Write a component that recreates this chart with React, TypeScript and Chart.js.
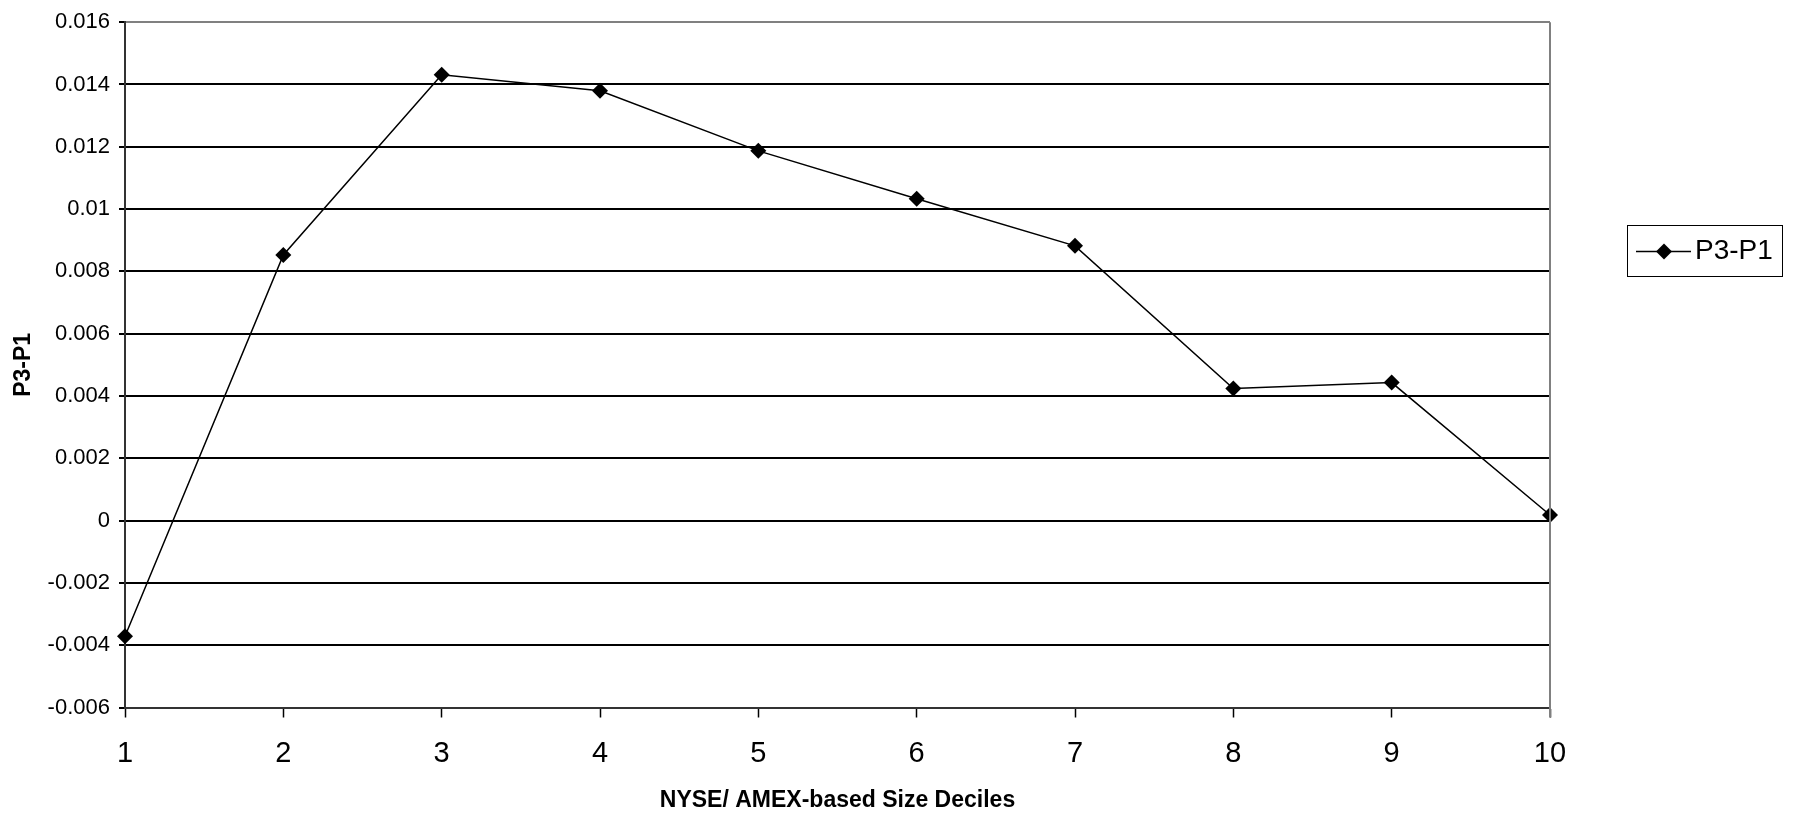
import React, { useEffect, useRef } from "react";
import { Chart, registerables } from "chart.js";

Chart.register(...registerables);

const categories = ["1", "2", "3", "4", "5", "6", "7", "8", "9", "10"];
const seriesName = "P3-P1";
const seriesValues = [-0.00371, 0.00853, 0.01431, 0.0138, 0.01187, 0.01033, 0.00882, 0.00424, 0.00443, 0.00018];
const yMin = -0.006;
const yMax = 0.016;
const yStep = 0.002;
const xTitle = "NYSE/ AMEX-based Size Deciles";
const yTitle = "P3-P1";

const FONT = "Arial, 'Liberation Sans', sans-serif";

const framePlugin = {
  id: "frame",
  afterDraw(chart: any) {
    const { ctx, chartArea } = chart;
    ctx.save();
    // right border
    ctx.strokeStyle = "#808080";
    ctx.lineWidth = 2;
    ctx.beginPath();
    ctx.moveTo(chartArea.right, chartArea.top);
    ctx.lineTo(chartArea.right, chartArea.bottom + 10);
    ctx.stroke();
    // legend
    const bx = 1627, by = 225, bw = 155, bh = 51;
    ctx.fillStyle = "#fff";
    ctx.fillRect(bx, by, bw, bh);
    ctx.strokeStyle = "#000";
    ctx.lineWidth = 1;
    ctx.strokeRect(bx + 0.5, by + 0.5, bw, bh);
    const ly = by + bh / 2 + 1;
    ctx.lineWidth = 1.5;
    ctx.beginPath();
    ctx.moveTo(bx + 9, ly);
    ctx.lineTo(bx + 64, ly);
    ctx.stroke();
    ctx.fillStyle = "#000";
    const cx = bx + 37, r = 8;
    ctx.beginPath();
    ctx.moveTo(cx, ly - r);
    ctx.lineTo(cx + r, ly);
    ctx.lineTo(cx, ly + r);
    ctx.lineTo(cx - r, ly);
    ctx.closePath();
    ctx.fill();
    ctx.font = `28px ${FONT}`;
    ctx.textBaseline = "middle";
    ctx.textAlign = "left";
    ctx.fillText(seriesName, bx + 68, ly);
    ctx.restore();
  },
};

export default function App() {
  const ref = useRef<HTMLCanvasElement | null>(null);
  useEffect(() => {
    if (!ref.current) return;
    const chart = new Chart(ref.current, {
      type: "line",
      data: {
        labels: categories,
        datasets: [
          {
            label: seriesName,
            data: seriesValues,
            borderColor: "#000",
            backgroundColor: "#000",
            borderWidth: 1.5,
            pointStyle: "rectRot",
            pointRadius: 8,
            pointBorderWidth: 0,
            pointBackgroundColor: "#000",
            tension: 0,
          },
        ],
      },
      plugins: [framePlugin],
      options: {
        animation: false,
        responsive: true,
        maintainAspectRatio: false,
        devicePixelRatio: 1,
        layout: { padding: { left: 0, right: 244, top: 20, bottom: 0 } },
        plugins: {
          legend: { display: false },
          tooltip: { enabled: false },
        },
        scales: {
          x: {
            type: "category",
            offset: false,
            afterFit(scale: any) {
              scale.height = 107.5;
            },
            grid: {
              display: true,
              drawOnChartArea: false,
              drawTicks: true,
              tickLength: 10,
              tickColor: "#000",
              tickWidth: 1.5,
            },
            border: { display: true, color: "#333", width: 2 },
            ticks: {
              color: "#000",
              font: { family: FONT, size: 29 },
              padding: 19,
              maxRotation: 0,
              autoSkip: false,
            },
            title: {
              display: true,
              text: xTitle,
              color: "#000",
              font: { family: FONT, size: 23, weight: "bold" },
              padding: { top: 0, bottom: 1 },
            },
          },
          y: {
            min: yMin,
            max: yMax,
            afterFit(scale: any) {
              scale.width = 125;
            },
            ticks: {
              stepSize: yStep,
              color: "#000",
              font: { family: FONT, size: 22 },
              padding: 9,
              callback: (v: any) => {
                const n = Math.round(Number(v) * 1000) / 1000;
                return String(n);
              },
            },
            grid: {
              color: (c: any) => (c.tick && Math.abs(c.tick.value - yMax) < 1e-9 ? "#808080" : "#000"),
              lineWidth: 2,
              drawTicks: true,
              tickLength: 6,
              tickColor: "#000",
            },
            border: { display: true, color: "#333", width: 2 },
            title: {
              display: true,
              text: yTitle,
              color: "#000",
              font: { family: FONT, size: 23, weight: "bold" },
              padding: { top: 10, bottom: 0 },
            },
          },
        },
      },
    } as any);
    return () => chart.destroy();
  }, []);
  return (
    <div style={{ position: "absolute", left: 0, top: 0, width: 1794, height: 815, background: "#fff" }}>
      <canvas ref={ref} />
    </div>
  );
}
